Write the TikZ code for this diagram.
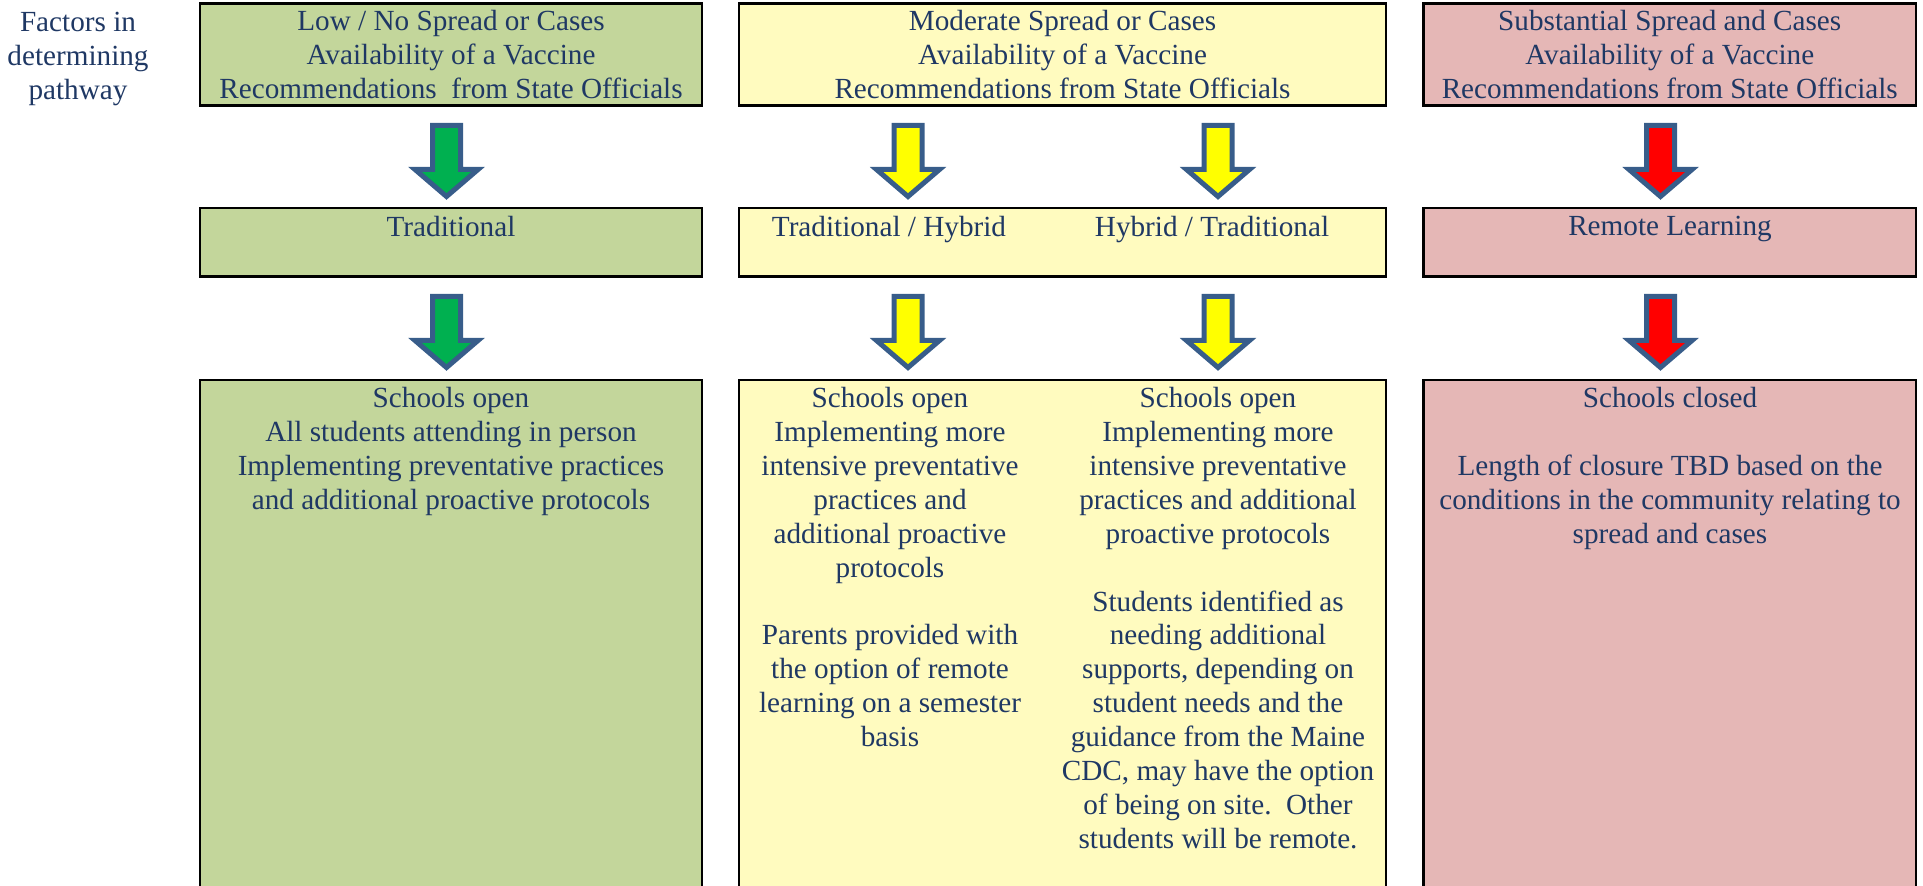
\documentclass[tikz,border=0pt]{standalone}
\usepackage{fontspec}
\setmainfont{LiberationSerif}[Extension=.ttf, UprightFont=*-Regular, BoldFont=*-Bold]
\usepackage{tikz}

\definecolor{textblue}{HTML}{1F3864}
\definecolor{lowfill}{HTML}{C3D69B}
\definecolor{modfill}{HTML}{FFFBBF}
\definecolor{subfill}{HTML}{E5B7B6}
\definecolor{arrowblue}{HTML}{385D8A}
\definecolor{arrowgreen}{HTML}{00B050}
\definecolor{arrowyellow}{HTML}{FFFF00}
\definecolor{arrowred}{HTML}{FF0000}

\tikzset{
  box/.style={draw=black, line width=1.4pt, inner sep=0pt},
  txt/.style={text=textblue, font=\fontsize{14.6}{16.95}\selectfont, align=center, inner sep=0pt},
  arrowline/.style={draw=arrowblue, line width=2.5pt, miter limit=10}
}

% block arrow pointing down, #1 = top point, #2 = fill
\newcommand{\downblock}[2]{%
  \draw[arrowline, fill=#2] ([xshift=-7pt]#1) -- ++(28,0) -- ++(0,44) -- ++(17.5,0)
    -- ++(-31.5,27) -- ++(-31.5,-27) -- ++(17.5,0) -- cycle;}

\begin{document}
\begin{tikzpicture}[x=0.5pt, y=-0.5pt]

  \useasboundingbox (0,0) rectangle (1923,886);

  \node[txt] (factors) at (78,59) {Factors in\\determining\\pathway}; %LEVO

  % factors
  \node[box, fill=lowfill, minimum width=251pt, minimum height=51pt, txt] (low) at (451,54.5)
    {Low / No Spread or Cases\\Availability of a Vaccine\\Recommendations\ \ from State Officials};
  \node[box, fill=modfill, minimum width=323.5pt, minimum height=51pt, txt] (mod) at (1062.5,54.5)
    {Moderate Spread or Cases\\Availability of a Vaccine\\Recommendations from State Officials};
  \node[box, fill=subfill, minimum width=246.25pt, minimum height=51pt, txt] (sub) at (1669.75,54.5)
    {Substantial Spread and Cases\\Availability of a Vaccine\\Recommendations from State Officials};

  % pathways
  \node[box, fill=lowfill, minimum width=251pt, minimum height=34.25pt] (trad) at (451,242.25) {};
  \node[box, fill=modfill, minimum width=323.5pt, minimum height=34.25pt] (hyb) at (1062.5,242.25) {};
  \node[box, fill=subfill, minimum width=246.25pt, minimum height=34.25pt] (rem) at (1669.75,242.25) {};

  \node[txt, anchor=north] (tradtxt) at (451,216) {Traditional};
  \node[txt, anchor=north] (hybtxta) at (889,216) {Traditional / Hybrid};
  \node[txt, anchor=north] (hybtxtb) at (1212,216) {Hybrid / Traditional};
  \node[txt, anchor=north] (remtxt) at (1670,216) {Remote Learning};

  % schools
  \node[box, fill=lowfill, minimum width=251pt, minimum height=260pt] (open) at (451,640) {};
  \node[box, fill=modfill, minimum width=323.5pt, minimum height=260pt] (part) at (1062.5,640) {};
  \node[box, fill=subfill, minimum width=246.25pt, minimum height=260pt] (closed) at (1669.75,640) {};

  \node[txt, anchor=north] (opentxt) at (451,387)
    {Schools open\\All students attending in person\\Implementing preventative practices\\and additional proactive protocols};
  \node[txt, anchor=north] (parttxta) at (890,387)
    {Schools open\\Implementing more\\intensive preventative\\practices and\\additional proactive\\protocols\\[16.95pt]Parents provided with\\the option of remote\\learning on a semester\\basis};
  \node[txt, anchor=north] (parttxtb) at (1218,387)
    {Schools open\\Implementing more\\intensive preventative\\practices and additional\\proactive protocols\\[16.95pt]Students identified as\\needing additional\\supports, depending on\\student needs and the\\guidance from the Maine\\CDC, may have the option\\of being on site.\ \ Other\\students will be remote.};
  \node[txt, anchor=north] (closedtxt) at (1670,387)
    {Schools closed\\[16.95pt]Length of closure TBD based on the\\conditions in the community relating to\\spread and cases};

  % arrows
  \coordinate (ga) at (446.5,125.5);
  \coordinate (ya) at (908,125.5);
  \coordinate (yb) at (1218,125.5);
  \coordinate (ra) at (1660.5,125.5);
  \coordinate (gc) at (446.5,296.5);
  \coordinate (yc) at (908,296.5);
  \coordinate (yd) at (1218,296.5);
  \coordinate (rc) at (1660.5,296.5);

  \downblock{ga}{arrowgreen}
  \downblock{ya}{arrowyellow}
  \downblock{yb}{arrowyellow}
  \downblock{ra}{arrowred}
  \downblock{gc}{arrowgreen}
  \downblock{yc}{arrowyellow}
  \downblock{yd}{arrowyellow}
  \downblock{rc}{arrowred}

\end{tikzpicture}
\end{document}
